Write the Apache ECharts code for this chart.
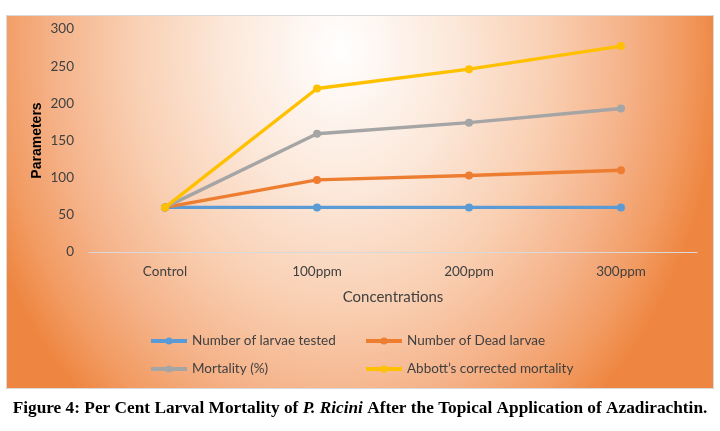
<!DOCTYPE html>
<html><head><meta charset="utf-8">
<script src="https://cdn.jsdelivr.net/npm/echarts@6/dist/echarts.min.js"></script>
<style>html,body{margin:0;padding:0;background:#fff}#c{width:720px;height:431px}</style>
</head><body><div id="c"></div>
<script>
const categories = ['Control', '100ppm', '200ppm', '300ppm'];
const larvaeTested = [60, 60, 60, 60];
const deadLarvae = [60, 97, 103, 110];
const mortality = [60, 159, 174, 193];
const abbott = [60, 220, 246, 277];
const seriesNames = ['Number of larvae tested', 'Number of Dead larvae', 'Mortality (%)', 'Abbott\u2019s corrected mortality'];
const seriesColors = ['#5B9BD5', '#ED7D31', '#A5A5A5', '#FFC000'];
const seriesData = [larvaeTested, deadLarvae, mortality, abbott];

const chart = echarts.init(document.getElementById('c'), null, {renderer: 'canvas'});
const font = 'Lato, "Open Sans", sans-serif';
const legendPos = [[144, 329], [359, 329], [144, 357], [359, 357]];
// elliptical background gradient (scaled rect)
const sx = 380 / 470;
const option = {
  animation: false,
  textStyle: {fontFamily: font},
  graphic: [
    {type: 'rect', z: -10, x: 0, y: 0, scaleX: sx, originX: 0, originY: 0,
      shape: {x: 6 / sx, y: 15, width: 708 / sx, height: 374},
      style: {
        fill: new echarts.graphic.RadialGradient(340 / sx, 50, 470, [
          {offset: 0, color: '#ffffff'},
          {offset: 0.3, color: '#fce8da'},
          {offset: 0.55, color: '#f9cfb2'},
          {offset: 0.75, color: '#f5b38a'},
          {offset: 0.9, color: '#f29b62'},
          {offset: 1, color: '#ee8641'}
        ], true)}},
    {type: 'rect', z: -9, shape: {x: 6.5, y: 15.5, width: 707, height: 373},
      style: {fill: 'none', stroke: '#d9d9d9', lineWidth: 1}},
    {type: 'text', left: 'center', top: 400,
      style: {text: '{b|Figure 4: Per Cent Larval Mortality of }{i|P. Ricini}{b| After the Topical Application of Azadirachtin.}',
        rich: {
          b: {fontFamily: '"Liberation Serif", serif', fontWeight: 'bold', fontSize: 17.3, fill: '#000'},
          i: {fontFamily: '"Liberation Serif", serif', fontWeight: 'bold', fontStyle: 'italic', fontSize: 17.3, fill: '#000'}
        }}}
  ],
  legend: seriesNames.map((n, i) => ({
    data: [n], left: legendPos[i][0], top: legendPos[i][1],
    itemWidth: 36, itemHeight: 9, itemGap: 0,
    lineStyle: {width: 4},
    textStyle: {fontFamily: font, fontSize: 13.5, color: '#404040'}
  })),
  grid: {left: 89, right: 23, top: 29, bottom: 179},
  xAxis: {
    type: 'category', data: categories, boundaryGap: true,
    axisLine: {lineStyle: {color: '#d9d9d9', width: 1}},
    axisTick: {show: false},
    axisLabel: {color: '#404040', fontSize: 13.5, margin: 13, fontFamily: font},
    name: 'Concentrations', nameLocation: 'middle', nameGap: 38, nameMoveOverlap: false,
    nameTextStyle: {color: '#404040', fontSize: 15, fontFamily: font}
  },
  yAxis: {
    type: 'value', min: 0, max: 300, interval: 50,
    axisLine: {show: false}, axisTick: {show: false},
    splitLine: {show: false},
    axisLabel: {color: '#404040', fontSize: 13.5, margin: 15, fontFamily: font},
    name: 'Parameters', nameLocation: 'middle', nameGap: 45, nameMoveOverlap: false,
    nameTextStyle: {color: '#000', fontSize: 14, fontWeight: 'bold', fontFamily: '"Liberation Sans", Arial, sans-serif'}
  },
  series: seriesNames.map((n, i) => ({
    name: n, type: 'line', data: seriesData[i],
    symbol: 'circle', symbolSize: 8,
    lineStyle: {width: 3.4, color: seriesColors[i]},
    itemStyle: {color: seriesColors[i]},
    z: 2 + i
  }))
};
chart.setOption(option);
</script></body></html>
